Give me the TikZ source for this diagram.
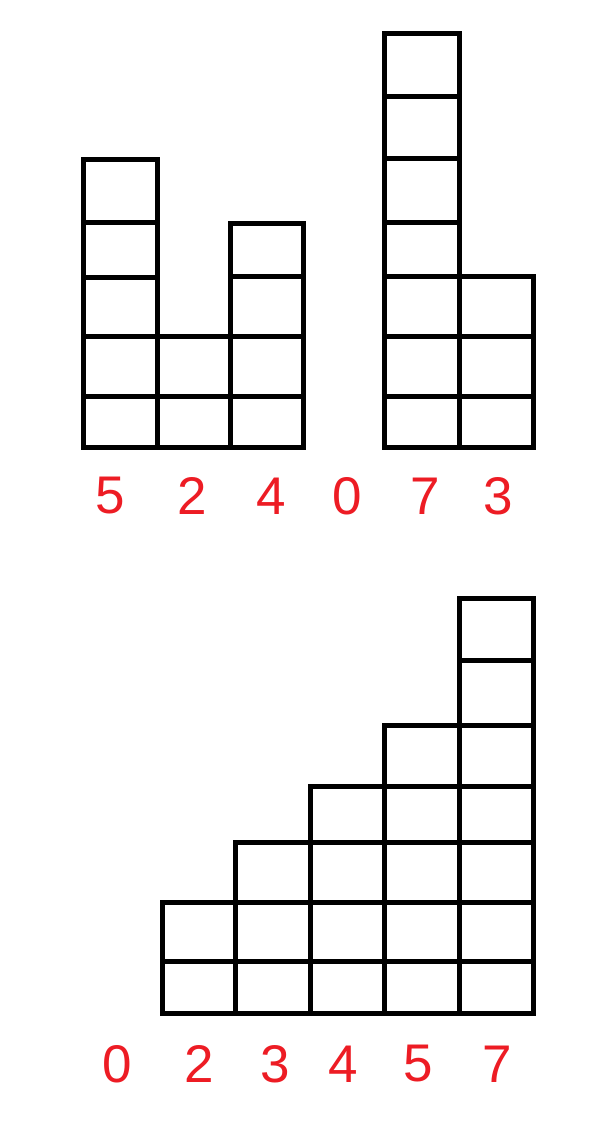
\documentclass[tikz,border=0pt]{standalone}
\usepackage{fontspec}
\setmainfont{Liberation Sans}
\definecolor{labred}{HTML}{ED1C24}
\begin{document}
\begin{tikzpicture}[x=1pt,y=-1pt,
  cell/.style={draw=black,line width=5pt,line join=miter},
  num/.style={text=labred,font=\fontsize{53}{53}\selectfont,inner sep=0pt,anchor=center}]
\useasboundingbox[fill=white] (0,0) rectangle (608,1141);
% top left: 5 2 4
\foreach \ya/\yb in {447/396,396/336,336/277,277/222,222/159}
  \draw[cell] (83,\ya) rectangle (157,\yb);
\foreach \ya/\yb in {447/396,396/336}
  \draw[cell] (157,\ya) rectangle (230,\yb);
\foreach \ya/\yb in {447/396,396/336,336/276,276/223}
  \draw[cell] (230,\ya) rectangle (303,\yb);
% top right: 7 3
\foreach \ya/\yb in {447/396,396/336,336/276,276/222,222/158,158/96,96/33}
  \draw[cell] (384,\ya) rectangle (459,\yb);
\foreach \ya/\yb in {447/396,396/336,336/276}
  \draw[cell] (459,\ya) rectangle (533,\yb);
% bottom: 2 3 4 5 7
\foreach \xa/\xb/\h in {162/235/2,235/310/3,310/384/4,384/459/5,459/533/7}{
  \foreach \ya/\yb [count=\i] in {1013/961,961/902,902/842,842/786,786/725,725/660,660/598}{
    \ifnum\i>\h\relax\else
      \draw[cell] (\xa,\ya) rectangle (\xb,\yb);
    \fi
  }
}
% labels
\node[num] (t5) at (110,496) {5};
\node[num] (t2) at (192,496) {2};
\node[num] (t4) at (271,496) {4};
\node[num] (t0) at (347,496) {0};
\node[num] (t7) at (425,496) {7};
\node[num] (t3) at (498,496) {3};
\node[num] (b0) at (117,1064) {0};
\node[num] (b2) at (199,1064) {2};
\node[num] (b3) at (275,1064) {3};
\node[num] (b4) at (343,1064) {4};
\node[num] (b5) at (418,1064) {5};
\node[num] (b7) at (497,1064) {7};
\end{tikzpicture}
\end{document}
